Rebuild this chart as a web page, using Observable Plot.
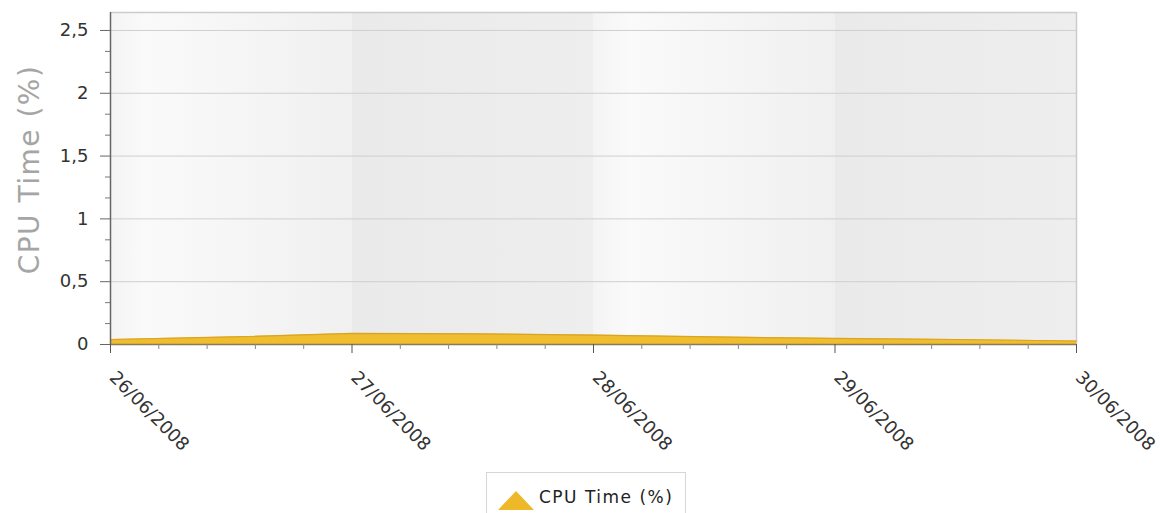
<!DOCTYPE html>
<html>
<head>
<meta charset="utf-8">
<script src="https://cdn.jsdelivr.net/npm/d3@7"></script>
<script src="https://cdn.jsdelivr.net/npm/@observablehq/plot@0.6"></script>
<style>
  html, body { margin: 0; padding: 0; background: #fff; overflow: hidden; }
  #wrap { position: relative; width: 1170px; height: 513px; }
  #legend { position: absolute; left: 486px; top: 472px; width: 200px; height: 60px;
    border: 1px solid #d6d6d6; background: #fff; box-sizing: border-box;
    font-family: "DejaVu Sans", sans-serif; font-size: 17px; letter-spacing: 1.5px; color: #222; }
  #legend svg { position: absolute; left: 11px; top: 17px; }
  #legend span { position: absolute; left: 52px; top: 14px; white-space: nowrap; }
</style>
</head>
<body>
<div id="wrap"><div id="chart"></div>
<div id="legend"><svg width="36" height="20"><polygon points="0,20 18,1 36,20" fill="#edb928"/></svg><span>CPU Time (%)</span></div>
</div>
<script>
// ---- data ----
const times = ["2008-06-26T00:00", "2008-06-26T12:00", "2008-06-27T00:00", "2008-06-27T12:00",
  "2008-06-28T00:00", "2008-06-28T12:00", "2008-06-29T00:00", "2008-06-29T12:00", "2008-06-30T00:00"];
const cpu = [0.04, 0.06, 0.088, 0.085, 0.075, 0.06, 0.048, 0.04, 0.028];
const dayTicks = ["2008-06-26", "2008-06-27", "2008-06-28", "2008-06-29", "2008-06-30"];
const dayLabels = ["26/06/2008", "27/06/2008", "28/06/2008", "29/06/2008", "30/06/2008"];
const yTicks = [0, 0.5, 1, 1.5, 2, 2.5];
const yLabels = ["0", "0,5", "1", "1,5", "2", "2,5"];
const seriesName = "CPU Time (%)";

// ---- build ----
const parse = s => new Date(s + (s.length > 10 ? ":00Z" : "T00:00:00Z"));
const data = times.map((t, i) => ({date: parse(t), value: cpu[i]}));
const days = dayTicks.map(parse);
const bands = days.slice(0, -1).map((d, i) => ({x1: d, x2: days[i + 1], k: i % 2}));
const DAY = 864e5;
const xMinor = [];
for (let i = 0; i < days.length - 1; i++) for (let j = 1; j < 5; j++) xMinor.push(new Date(+days[i] + j * DAY / 5));
const yMinor = [];
for (let k = 1; k < 15; k++) if (k % 3) yMinor.push(k / 6);
const yTop = 2.643;
const font = "DejaVu Sans, sans-serif";

const chart = Plot.plot({
  width: 1170, height: 468,
  marginLeft: 110, marginRight: 94, marginTop: 12, marginBottom: 124,
  style: {fontFamily: font, background: "#fff", overflow: "visible"},
  x: {type: "utc", domain: [days[0], days[days.length - 1]], axis: null},
  y: {domain: [0, yTop], axis: null},
  marks: [
    Plot.rect(bands.filter(b => b.k === 0), {x1: "x1", x2: "x2", y1: 0, y2: yTop, fill: "url(#bandA)"}),
    Plot.rect(bands.filter(b => b.k === 1), {x1: "x1", x2: "x2", y1: 0, y2: yTop, fill: "url(#bandB)"}),
    Plot.gridY(yTicks.slice(1), {stroke: "#cfcfcf", strokeOpacity: 1, strokeWidth: 1}),
    Plot.ruleY([yTop], {stroke: "#cccccc", strokeWidth: 1.5}),
    Plot.ruleX([days[days.length - 1]], {stroke: "#cccccc", strokeWidth: 1.5}),
    Plot.areaY(data, {x: "date", y: "value", fill: "#efbd2e"}),
    Plot.lineY(data, {x: "date", y: "value", stroke: "#d9a422", strokeWidth: 1.2}),
    Plot.ruleY([0], {stroke: "#8a7a55", strokeWidth: 1.5}),
    Plot.ruleX([days[0]], {stroke: "#666", strokeWidth: 1.5}),
    Plot.axisY(yTicks, {label: null, tickSize: 10, tickPadding: 12, fontSize: 18, fill: "#333", stroke: "#666",
      tickFormat: d => yLabels[yTicks.indexOf(d)]}),
    Plot.axisY(yMinor, {label: null, tickSize: 5, stroke: "#777", tickFormat: () => ""}),
    Plot.axisX(days, {label: null, tickSize: 9, stroke: "#555", tickFormat: () => ""}),
    Plot.axisX(xMinor, {label: null, tickSize: 5, stroke: "#888", tickFormat: () => ""}),
    Plot.text(days, {x: d => d, frameAnchor: "bottom", text: (d, i) => dayLabels[i], rotate: 45,
      textAnchor: "start", lineAnchor: "middle", dx: 2, dy: 30, fontSize: 18, fill: "#333"}),
    Plot.text([seriesName], {frameAnchor: "left", textAnchor: "middle", lineAnchor: "middle",
      dx: -80, dy: -9, rotate: -90, fontSize: 28, fill: "#a5a5a5",
      render: (i, s, v, d, c, next) => { const g = next(i, s, v, d, c); g.setAttribute("letter-spacing", "1.5"); return g; }})
  ]
});

const defs = d3.create("svg:defs");
const gA = defs.append("linearGradient").attr("id", "bandA").attr("x1", 0).attr("x2", 1).attr("y1", 0).attr("y2", 0);
gA.append("stop").attr("offset", "0").attr("stop-color", "#f4f4f4");
gA.append("stop").attr("offset", "0.15").attr("stop-color", "#fafafa");
gA.append("stop").attr("offset", "1").attr("stop-color", "#f0f0f0");
const gB = defs.append("linearGradient").attr("id", "bandB").attr("x1", 0).attr("x2", 1).attr("y1", 0).attr("y2", 0);
gB.append("stop").attr("offset", "0").attr("stop-color", "#eaeaea");
gB.append("stop").attr("offset", "1").attr("stop-color", "#eeeeee");
chart.insertBefore(defs.node(), chart.firstChild);
document.getElementById("chart").appendChild(chart);
</script>
</body>
</html>
